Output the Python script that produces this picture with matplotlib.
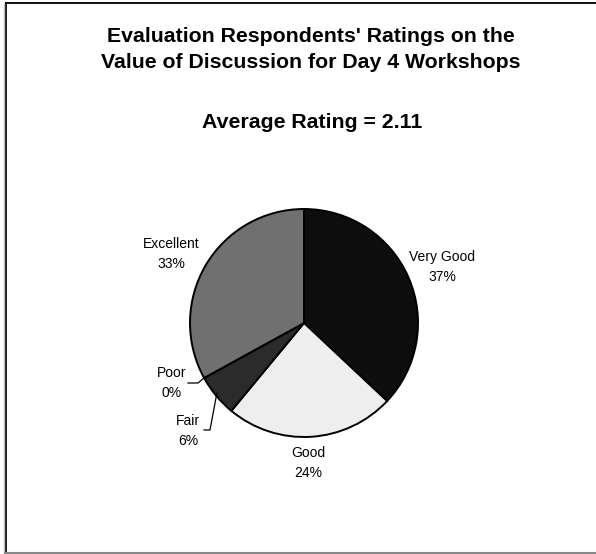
import numpy as np
import matplotlib
matplotlib.use("Agg")
import matplotlib.pyplot as plt
from matplotlib.lines import Line2D

plt.rcParams['font.family'] = ['Liberation Sans', 'DejaVu Sans']

categories = ["Very Good", "Good", "Fair", "Poor", "Excellent"]
percents = [37, 24, 6, 0, 33]
colors = ["#0d0d0d", "#eeeeee", "#2b2b2b", "#555555", "#707070"]
title_line1 = "Evaluation Respondents' Ratings on the"
title_line2 = "Value of Discussion for Day 4 Workshops"
subtitle = "Average Rating = 2.11"

W, H = 596, 554
fig = plt.figure(figsize=(W / 100, H / 100), dpi=100)
ax = fig.add_axes([0, 0, 1, 1])

cx, cy, r = 304, H - 323, 114
wedges, _ = ax.pie(percents, colors=colors, startangle=90, counterclock=False,
                   center=(cx, cy), radius=r,
                   wedgeprops=dict(edgecolor='black', linewidth=1.4))
ax.set_aspect('auto')
ax.set_xlim(0, W)
ax.set_ylim(0, H)
ax.axis('off')

# frame (left/top black, bottom grey; right edge off-canvas)
fig.lines.append(Line2D([5.5 / W, 5.5 / W], [1 - 2.5 / H, 1 - 552 / H], transform=fig.transFigure,
                        color='black', lw=1.3))
fig.lines.append(Line2D([5.5 / W, 1], [1 - 2.5 / H, 1 - 2.5 / H], transform=fig.transFigure,
                        color='black', lw=1.3))
fig.lines.append(Line2D([4 / W, 4 / W], [1 - 4 / H, 1 - 552 / H], transform=fig.transFigure,
                        color='#bbbbbb', lw=1.0))
fig.lines.append(Line2D([5 / W, 1], [1 - 552.5 / H, 1 - 552.5 / H], transform=fig.transFigure,
                        color='#888888', lw=1.5))

tfs = 15.3
ax.text(311, H - 37, title_line1, ha='center', va='center', fontsize=tfs, fontweight='bold')
ax.text(311, H - 62, title_line2, ha='center', va='center', fontsize=tfs, fontweight='bold')
ax.text(312, H - 122, subtitle, ha='center', va='center', fontsize=tfs, fontweight='bold')

label_pos = {
    "Very Good": (442, H - 267),
    "Good": (308, H - 463),
    "Fair": (188, H - 431),
    "Poor": (172, H - 383),
    "Excellent": (171, H - 254),
}
for cat, p, w in zip(categories, percents, wedges):
    lx, ly = label_pos[cat]
    ax.text(lx, ly, f"{cat}\n{p}%", ha='center', va='center', fontsize=10, linespacing=1.5)

def edge_point(w, frac=1.0):
    ang = np.deg2rad((w.theta1 + w.theta2) / 2)
    return cx + r * frac * np.cos(ang), cy + r * frac * np.sin(ang)

# Poor
w = wedges[categories.index("Poor")]
ex, ey = edge_point(w)
ax.plot([188, 198, ex], [H - 383, H - 383, ey], color='black', lw=0.9)
# Fair
w = wedges[categories.index("Fair")]
ex, ey = edge_point(w, 0.97)
ax.plot([204, 210, ex - 2], [H - 430, H - 430, ey], color='black', lw=0.9)

fig.savefig("out.png", dpi=100)
